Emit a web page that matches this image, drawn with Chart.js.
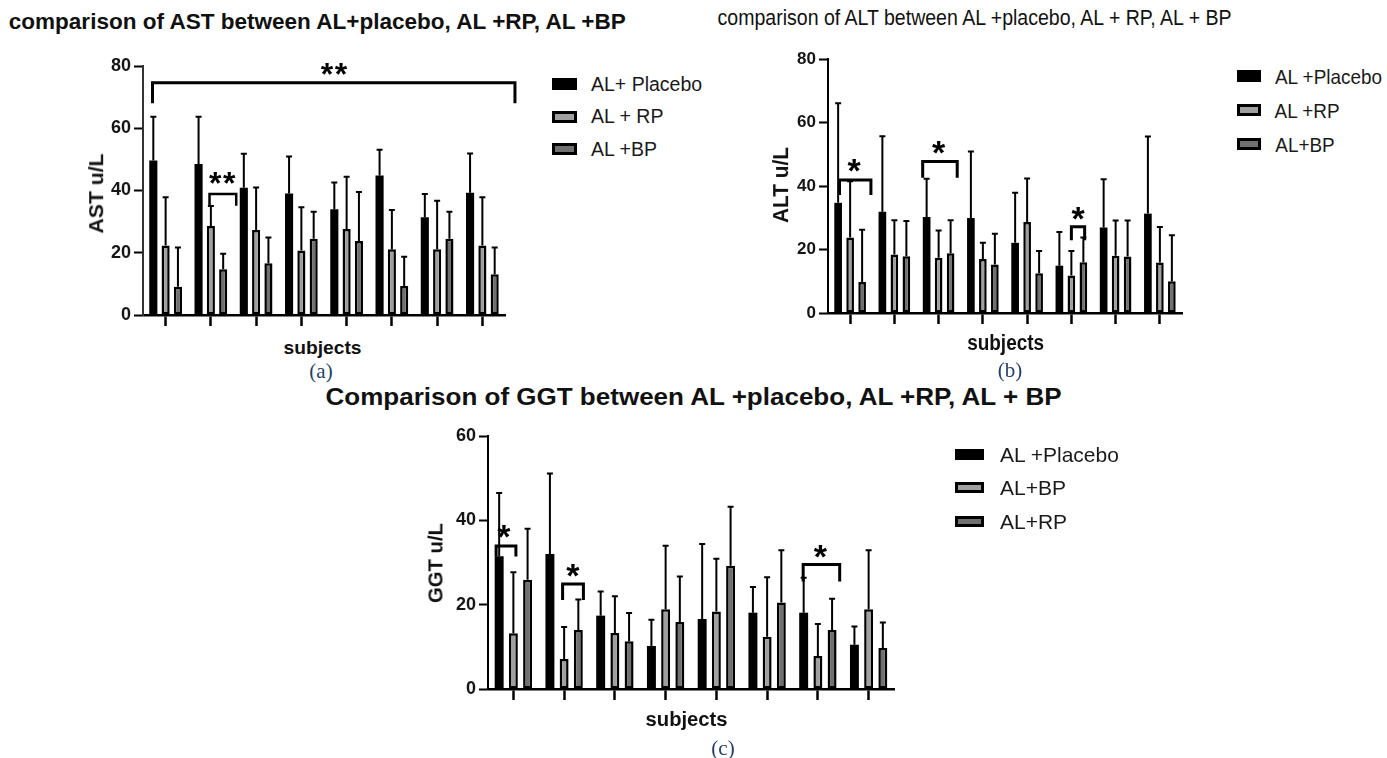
<!DOCTYPE html>
<html>
<head>
<meta charset="utf-8">
<title>AST, ALT and GGT by subject</title>
<script src="https://cdn.jsdelivr.net/npm/chart.js@4.4.1/dist/chart.umd.min.js"></script>
<style>
  html, body { margin: 0; padding: 0; background: #ffffff; }
  body { position: relative; width: 1387px; height: 758px; overflow: hidden;
         font-family: "Liberation Sans", Arial, sans-serif; color: #111; }
  canvas { position: absolute; }
  .txt { position: absolute; white-space: nowrap; line-height: 1; transform-origin: 50% 50%; }
  .swatch { position: absolute; box-sizing: border-box; }
</style>
</head>
<body>
<script>
// ---------- data ----------
const subjects = ['Subject 1', 'Subject 2', 'Subject 3', 'Subject 4',
                  'Subject 5', 'Subject 6', 'Subject 7', 'Subject 8'];

// (a) AST, u/L : mean and SD per subject
const astSeries    = ['AL+ Placebo', 'AL + RP', 'AL +BP'];
const astPlacebo   = [49.6, 48.5, 40.9, 39.0, 34.0, 44.8, 31.4, 39.3];
const astPlaceboSd = [14.1, 15.2, 10.9, 11.9, 8.6, 8.3, 7.5, 12.6];
const astRp        = [22.3, 28.6, 27.3, 20.7, 27.6, 21.1, 21.1, 22.3];
const astRpSd      = [15.5, 6.4, 13.7, 13.9, 16.8, 12.6, 15.6, 15.5];
const astBp        = [9.1, 14.7, 16.6, 24.5, 23.8, 9.3, 24.5, 13.1];
const astBpSd      = [12.6, 5.0, 8.3, 8.7, 15.7, 9.4, 8.7, 8.6];

// (b) ALT, u/L
const altSeries    = ['AL +Placebo', 'AL +RP', 'AL+BP'];
const altPlacebo   = [34.7, 31.9, 30.2, 29.9, 22.1, 14.9, 26.9, 31.3];
const altPlaceboSd = [31.4, 23.8, 12.1, 21.0, 15.8, 10.6, 15.2, 24.3];
const altRp        = [23.8, 18.4, 17.4, 17.0, 28.7, 11.8, 18.0, 15.9];
const altRpSd      = [17.7, 10.8, 8.6, 5.1, 13.7, 7.7, 11.1, 11.2];
const altBp        = [9.8, 17.9, 18.8, 15.3, 12.5, 16.0, 17.8, 10.0];
const altBpSd      = [16.4, 11.1, 10.4, 9.7, 7.0, 7.8, 11.3, 14.5];

// (c) GGT, u/L
const ggtSeries    = ['AL +Placebo', 'AL+BP', 'AL+RP'];
const ggtPlacebo   = [31.5, 32.0, 17.4, 10.2, 16.6, 18.1, 18.1, 10.5];
const ggtPlaceboSd = [15.0, 19.1, 5.7, 6.2, 17.8, 6.1, 8.3, 4.3];
const ggtBp        = [13.2, 7.1, 13.3, 18.9, 18.4, 12.4, 7.8, 18.9];
const ggtBpSd      = [14.5, 7.6, 8.7, 15.1, 12.5, 14.1, 7.6, 14.0];
const ggtRp        = [25.9, 14.0, 11.3, 15.9, 29.2, 20.5, 14.0, 9.7];
const ggtRpSd      = [12.1, 7.2, 6.7, 10.8, 14.0, 12.4, 7.4, 6.1];

// significance brackets, in axis units (x = subject index, y = u/L)
const astSignificance = [
  { from: -0.29, to: 7.72, top: 74.6, leftEnd: 68.0, rightEnd: 68.0, mark: '**', markAt: 3.72, markY: 80.0 },
  { from: 0.97,  to: 1.56, top: 38.9, leftEnd: 35.1, rightEnd: 35.1, mark: '**', markAt: 1.25, markY: 44.7 }
];
const altSignificance = [
  { from: -0.24, to: 0.47, top: 41.9, leftEnd: 37.2, rightEnd: 37.2, mark: '*', markAt: 0.09, markY: 47.4 },
  { from: 1.64,  to: 2.42, top: 47.7, leftEnd: 42.6, rightEnd: 42.6, mark: '*', markAt: 2.00, markY: 53.2 },
  { from: 5.00,  to: 5.30, top: 27.2, leftEnd: 22.9, rightEnd: 22.9, mark: '*', markAt: 5.15, markY: 32.4 }
];
const ggtSignificance = [
  { from: -0.34, to: 0.05, top: 33.9, leftEnd: 31.4, rightEnd: 31.4, mark: '*', markAt: -0.185, markY: 38.1 },
  { from: 0.97,  to: 1.38, top: 24.9, leftEnd: 21.1, rightEnd: 21.1, mark: '*', markAt: 1.17,  markY: 28.8 },
  { from: 5.71,  to: 6.43, top: 29.5, leftEnd: 25.5, rightEnd: 25.5, mark: '*', markAt: 6.05,  markY: 33.4 }
];

// ---------- styling ----------
const FONT = '"Liberation Sans", Arial, sans-serif';
const NARROW = '"Liberation Sans Narrow", "Liberation Sans", Arial, sans-serif';
const SERIF = '"Liberation Serif", "DejaVu Serif", serif';
const barFills = ['#000000', '#a0a0a0', '#707070'];

// ---------- plugins ----------
function errorBarPlugin(sds) {
  return {
    id: 'errorBars',
    afterDatasetsDraw(chart) {
      const { ctx } = chart;
      const y = chart.scales.y;
      ctx.save();
      ctx.strokeStyle = '#000';
      ctx.lineWidth = 2;
      chart.data.datasets.forEach((ds, i) => {
        chart.getDatasetMeta(i).data.forEach((bar, j) => {
          const top = y.getPixelForValue(ds.data[j] + sds[i][j]);
          ctx.beginPath();
          ctx.moveTo(bar.x, bar.y);
          ctx.lineTo(bar.x, top);
          ctx.moveTo(bar.x - 3, top);
          ctx.lineTo(bar.x + 3, top);
          ctx.stroke();
        });
      });
      ctx.restore();
    }
  };
}

function bracketPlugin(items, lineWidths, starSize, starStep) {
  return {
    id: 'brackets',
    afterDatasetsDraw(chart) {
      const { ctx } = chart;
      const x = chart.scales.x, y = chart.scales.y;
      ctx.save();
      ctx.strokeStyle = '#000';
      ctx.fillStyle = '#000';
      ctx.lineJoin = 'miter';
      ctx.lineCap = 'butt';
      items.forEach((b, k) => {
        const x0 = x.getPixelForValue(b.from), x1 = x.getPixelForValue(b.to);
        ctx.lineWidth = lineWidths[k] || lineWidths[lineWidths.length - 1];
        ctx.beginPath();
        ctx.moveTo(x0, y.getPixelForValue(b.leftEnd));
        ctx.lineTo(x0, y.getPixelForValue(b.top));
        ctx.lineTo(x1, y.getPixelForValue(b.top));
        ctx.lineTo(x1, y.getPixelForValue(b.rightEnd));
        ctx.stroke();
        // asterisks, centred on (markAt, markY)
        const cx = x.getPixelForValue(b.markAt), cy = y.getPixelForValue(b.markY);
        ctx.font = 'bold ' + starSize + 'px ' + FONT;
        ctx.textAlign = 'center';
        ctx.textBaseline = 'alphabetic';
        const n = b.mark.length;
        for (let s = 0; s < n; s++) {
          ctx.fillText(b.mark[s], cx + (s - (n - 1) / 2) * starStep, cy + starSize * 0.58);
        }
      });
      ctx.restore();
    }
  };
}

// ---------- chart builder ----------
function buildChart(c) {
  const Y = 64, T = 26, R = 26, X = 16, B = 4;
  const W = Y + (c.area.right - c.area.left) + R;
  const H = T + (c.area.bottom - c.area.top) + X + B;
  const canvas = document.createElement('canvas');
  canvas.width = W;
  canvas.height = H;
  canvas.style.width = W + 'px';
  canvas.style.height = H + 'px';
  canvas.style.left = (c.area.left - Y) + 'px';
  canvas.style.top = (c.area.top - T) + 'px';
  document.body.appendChild(canvas);

  const chart = new Chart(canvas, {
    type: 'bar',
    data: {
      labels: subjects,
      datasets: c.series.map((name, i) => ({
        label: name,
        data: c.values[i],
        backgroundColor: barFills[i],
        borderColor: '#000',
        borderWidth: i === 0 ? 0 : 2.5,
        borderSkipped: false,
        categoryPercentage: c.catPct,
        barPercentage: c.barPct
      }))
    },
    options: {
      responsive: false,
      animation: false,
      devicePixelRatio: 1,
      layout: { padding: { left: 0, top: T, right: R, bottom: B } },
      plugins: { legend: { display: false }, tooltip: { enabled: false } },
      scales: {
        x: {
          offset: true,
          grid: { offset: false, drawOnChartArea: false, drawTicks: true,
                  tickLength: 11, tickWidth: 2.5, tickColor: '#000' },
          border: { display: true, color: '#000', width: 2.5 },
          ticks: { display: false },
          afterFit(s) { s.height = X; }
        },
        y: {
          min: 0, max: c.yMax,
          ticks: { stepSize: 20, color: '#151515', padding: 3,
                   font: { family: FONT, size: c.tickSize, weight: 'bold' } },
          grid: { drawOnChartArea: false, drawTicks: true, tickLength: 9,
                  tickWidth: 2, tickColor: '#000' },
          border: { display: true, color: c.yLine, width: 2 },
          afterFit(s) { s.width = Y; }
        }
      }
    },
    plugins: [errorBarPlugin(c.sds), bracketPlugin(c.brackets, c.bracketWidths, c.starSize, c.starStep)]
  });

  // keep the plot area exactly where the page layout wants it
  const ca = chart.chartArea;
  canvas.style.left = (c.area.left - ca.left) + 'px';
  canvas.style.top = (c.area.top - ca.top) + 'px';
  return chart;
}

// ---------- text helpers ----------
function addText(str, o) {
  const el = document.createElement('div');
  el.className = 'txt';
  el.textContent = str;
  el.style.fontSize = o.size + 'px';
  el.style.fontWeight = o.bold ? '700' : '400';
  el.style.fontFamily = o.family || FONT;
  el.style.color = o.color || '#111';
  document.body.appendChild(el);
  const r = el.getBoundingClientRect();
  const w = r.width, h = r.height;
  const sx = o.width ? o.width / w : (o.sx || 1);
  const cx = o.cx !== undefined ? o.cx : o.left + w * sx / 2;
  el.style.left = (cx - w / 2) + 'px';
  el.style.top = (o.cy - h / 2) + 'px';
  el.style.transform = (o.rotate ? 'rotate(-90deg) ' : '') + 'scaleX(' + sx.toFixed(4) + ')';
  return el;
}

function addLegend(chart, o) {
  chart.data.datasets.forEach((ds, i) => {
    const cy = o.top + i * o.gap;
    const sw = document.createElement('div');
    sw.className = 'swatch';
    sw.style.left = o.boxLeft + 'px';
    sw.style.top = (cy - o.boxH / 2) + 'px';
    sw.style.width = o.boxW + 'px';
    sw.style.height = o.boxH + 'px';
    sw.style.background = ds.backgroundColor;
    sw.style.border = ds.borderWidth ? '3px solid #000' : '0';
    document.body.appendChild(sw);
    addText(ds.label, { left: o.textLeft, cy: cy, size: o.size, family: o.family,
                        color: '#1a1a1a', sx: o.sx });
  });
}

// ---------- (a) AST ----------
const astChart = buildChart({
  area: { left: 143, right: 505, top: 66, bottom: 315 },
  yMax: 80, tickSize: 18, yLine: '#333',
  series: astSeries,
  values: [astPlacebo, astRp, astBp],
  sds: [astPlaceboSd, astRpSd, astBpSd],
  catPct: 0.816, barPct: 0.66,
  brackets: astSignificance, bracketWidths: [3, 2.5],
  starSize: 32, starStep: 14
});
addText('comparison of AST between AL+placebo, AL +RP, AL +BP',
        { cx: 317.5, cy: 22, size: 22, bold: true, width: 617 });
addText('AST u/L', { cx: 96, cy: 193, size: 21, bold: true, rotate: true, width: 80 });
addText('subjects', { cx: 323, cy: 347, size: 19, bold: true, width: 78 });
addText('(a)', { cx: 321, cy: 371, size: 21, family: SERIF, color: '#243f6e' });
addLegend(astChart, { boxLeft: 552, boxW: 25, boxH: 12, textLeft: 591,
                      top: 84.3, gap: 32.5, size: 19.5, family: FONT });

// ---------- (b) ALT ----------
const altChart = buildChart({
  area: { left: 828, right: 1182, top: 59, bottom: 313 },
  yMax: 80, tickSize: 17, yLine: '#000',
  series: altSeries,
  values: [altPlacebo, altRp, altBp],
  sds: [altPlaceboSd, altRpSd, altBpSd],
  catPct: 0.813, barPct: 0.64,
  brackets: altSignificance, bracketWidths: [3],
  starSize: 34, starStep: 14
});
addText('comparison of ALT between AL +placebo, AL + RP, AL + BP',
        { cx: 975, cy: 18, size: 22, family: NARROW, width: 514 });
addText('ALT u/L', { cx: 781, cy: 185, size: 22, bold: true, family: NARROW, rotate: true, width: 76 });
addText('subjects', { cx: 1006, cy: 343, size: 22, bold: true, family: NARROW, width: 77 });
addText('(b)', { cx: 1010, cy: 370, size: 21, family: SERIF, color: '#243f6e' });
addLegend(altChart, { boxLeft: 1237, boxW: 24, boxH: 12, textLeft: 1275,
                      top: 76, gap: 34, size: 21, family: FONT, sx: 0.9 });

// ---------- (c) GGT ----------
const ggtChart = buildChart({
  area: { left: 488, right: 894, top: 436, bottom: 689 },
  yMax: 60, tickSize: 18, yLine: '#000',
  series: ggtSeries,
  values: [ggtPlacebo, ggtBp, ggtRp],
  sds: [ggtPlaceboSd, ggtBpSd, ggtRpSd],
  catPct: 0.84, barPct: 0.63,
  brackets: ggtSignificance, bracketWidths: [3],
  starSize: 34, starStep: 14
});
addText('Comparison of GGT between AL +placebo, AL +RP, AL + BP',
        { cx: 694, cy: 397, size: 24, bold: true, width: 736 });
addText('GGT u/L', { cx: 435, cy: 563, size: 20, bold: true, rotate: true, width: 80 });
addText('subjects', { cx: 687, cy: 719, size: 20, bold: true, width: 82 });
addText('(c)', { cx: 723, cy: 748, size: 21, family: SERIF, color: '#243f6e' });
addLegend(ggtChart, { boxLeft: 955, boxW: 29, boxH: 11, textLeft: 1000,
                      top: 454, gap: 33.5, size: 21, family: FONT });
</script>
</body>
</html>
